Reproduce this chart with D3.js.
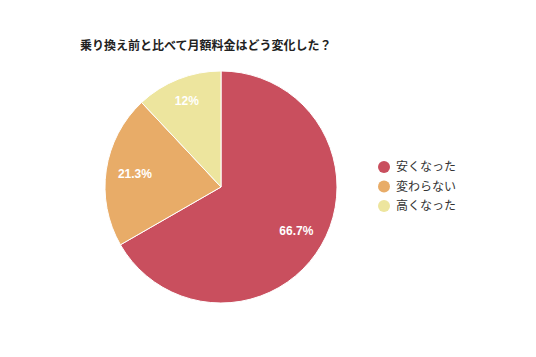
<!DOCTYPE html>
<html>
<head>
<meta charset="utf-8">
<script src="https://cdn.jsdelivr.net/npm/d3@7"></script>
<style>
  body { margin: 0; background: #fff; }
  text { font-family: "Noto Sans CJK JP", "Noto Sans", sans-serif; }
</style>
</head>
<body>
<div id="chart"></div>
<script>
const categories = ["安くなった", "変わらない", "高くなった"]
const values = [66.7, 21.3, 12]
const labels = ["66.7%", "21.3%", "12%"]
const colors = ["#c94f5e", "#e8ac68", "#ede59e"]

const svg = d3.select("#chart")
    .append("svg")
    .attr("width", 536)
    .attr("height", 357)

svg.append("text")
    .attr("x", 80)
    .attr("y", 50)
    .attr("font-size", 12)
    .attr("font-weight", "bold")
    .attr("fill", "#222")
    .text("乗り換え前と比べて月額料金はどう変化した？")

const R = 116
const g = svg.append("g").attr("transform", "translate(221,187)")

const pie = d3.pie().sort(null).value(d => d)
const arcs = pie(values)
const arc = d3.arc().innerRadius(0).outerRadius(R)
// small slices get their label pushed a bit further out
const labelPos = d => {
    const r = (d.endAngle - d.startAngle) < 1 ? R * 0.8 : R * 0.75
    return d3.arc().innerRadius(r).outerRadius(r).centroid(d)
}

g.selectAll("path")
    .data(arcs)
    .enter().append("path")
    .attr("d", arc)
    .attr("fill", (d, i) => colors[i])
    .attr("stroke", "#fff")
    .attr("stroke-width", 1)

g.selectAll("text.lbl")
    .data(arcs)
    .enter().append("text")
    .attr("class", "lbl")
    .attr("transform", d => `translate(${labelPos(d)})`)
    .attr("text-anchor", "middle")
    .attr("dy", "0.35em")
    .attr("font-size", 12)
    .attr("font-weight", "bold")
    .attr("fill", "#fff")
    .style("font-family", "'Liberation Sans', Arial, sans-serif")
    .text((d, i) => labels[i])

// legend
const legend = svg.append("g").attr("transform", "translate(384,167)")
const item = legend.selectAll("g")
    .data(categories)
    .enter().append("g")
    .attr("transform", (d, i) => `translate(0, ${i * 19.5})`)

item.append("circle")
    .attr("r", 6)
    .attr("fill", (d, i) => colors[i])

item.append("text")
    .attr("x", 12)
    .attr("dy", "0.35em")
    .attr("font-size", 12)
    .attr("fill", "#333")
    .text(d => d)
</script>
</body>
</html>
